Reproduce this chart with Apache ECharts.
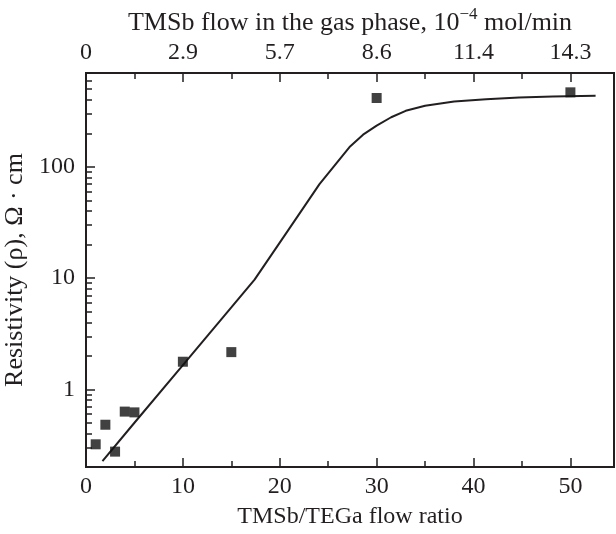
<!DOCTYPE html>
<html>
<head>
<meta charset="utf-8">
<script src="https://cdn.jsdelivr.net/npm/echarts@6/dist/echarts.min.js"></script>
<style>
  html, body { margin: 0; padding: 0; background: #fff; }
  #chart { width: 616px; height: 534px; }
</style>
</head>
<body>
<div id="chart"></div>
<script>
  // measured points
  var ratio = [1, 2, 3, 4, 5, 10, 15, 30, 50]
  var resistivity = [0.32, 0.48, 0.275, 0.63, 0.62, 1.77, 2.16, 417, 469]
  // fitted curve
  var fitRatio = [1.7, 5, 10, 15, 17.4, 21, 24.1, 27.2, 28.6, 30, 31.5, 33, 35, 38, 41.3, 44.7, 48.2, 52.6]
  var fitResistivity = [0.226, 0.50, 1.65, 5.46, 9.7, 28, 70, 151, 195, 235, 280, 320, 355, 387, 407, 422, 431, 436]
  // axis ticks
  var xTicks = [0, 10, 20, 30, 40, 50]
  var xMinorTicks = [5, 15, 25, 35, 45]
  var topTickLabels = ['0', '2.9', '5.7', '8.6', '11.4', '14.3']
  var yTicks = [1, 10, 100]
  var yMinorTicks = [0.3, 0.4, 0.5, 0.6, 0.7, 0.8, 0.9, 2, 3, 4, 5, 6, 7, 8, 9, 20, 30, 40, 50, 60, 70, 80, 90, 200, 300, 400, 500, 600, 700]

  var ink = '#231f20'
  var font = 'Liberation Serif'
  var xMax = 54.5
  var yMin = 0.2
  var yMax = 700

  function xAxisBase (pos, ticks, len) {
    return {
      type: 'value',
      position: pos,
      min: 0,
      max: xMax,
      interval: 10,
      gridIndex: 0,
      axisLine: { show: true, onZero: false, lineStyle: { color: ink, width: 2 } },
      axisTick: { show: true, inside: true, length: len, customValues: ticks, lineStyle: { color: ink, width: 1.5 } },
      axisLabel: { show: false },
      splitLine: { show: false }
    }
  }

  function yAxisBase (ticks, len) {
    return {
      type: 'log',
      logBase: 10,
      position: 'left',
      min: yMin,
      max: yMax,
      gridIndex: 0,
      axisLine: { show: true, onZero: false, lineStyle: { color: ink, width: 2 } },
      axisTick: { show: true, inside: true, length: len, customValues: ticks, lineStyle: { color: ink, width: 1.5 } },
      axisLabel: { show: false },
      splitLine: { show: false }
    }
  }

  var bottomAxis = xAxisBase('bottom', xTicks, 9)
  bottomAxis.axisLabel = {
    show: true,
    customValues: xTicks,
    margin: 8,
    color: ink,
    fontFamily: font,
    fontSize: 24,
    formatter: function (v) { return xTicks.indexOf(v) >= 0 ? String(v) : '' }
  }
  bottomAxis.name = 'TMSb/TEGa flow ratio'
  bottomAxis.nameLocation = 'middle'
  bottomAxis.nameGap = 38
  bottomAxis.nameTextStyle = { color: ink, fontFamily: font, fontSize: 24 }

  var topAxis = xAxisBase('top', xTicks, 9)
  topAxis.axisLabel = {
    show: true,
    customValues: xTicks,
    margin: 8,
    color: ink,
    fontFamily: font,
    fontSize: 24,
    formatter: function (v) {
      var i = xTicks.indexOf(v)
      return i >= 0 ? topTickLabels[i] : ''
    }
  }
  topAxis.name = '{t|TMSb flow in the gas phase, 10}{s|\u22124}{t| mol/min}'
  topAxis.nameLocation = 'middle'
  topAxis.nameGap = 33
  topAxis.nameTextStyle = {
    rich: {
      t: { color: ink, fontFamily: font, fontSize: 26, lineHeight: 30, verticalAlign: 'bottom' },
      s: { color: ink, fontFamily: font, fontSize: 17, lineHeight: 17, verticalAlign: 'top' }
    }
  }

  var leftAxis = yAxisBase(yTicks, 9)
  leftAxis.axisLabel = {
    show: true,
    customValues: yTicks,
    margin: 11,
    color: ink,
    fontFamily: font,
    fontSize: 24,
    formatter: function (v) { return yTicks.indexOf(v) >= 0 ? String(v) : '' }
  }
  leftAxis.name = 'Resistivity (\u03c1), \u03a9 \u00b7 cm'
  leftAxis.nameLocation = 'middle'
  leftAxis.nameRotate = 90
  leftAxis.nameGap = 50
  leftAxis.nameTextStyle = { color: ink, fontFamily: font, fontSize: 26 }

  var myChart = echarts.init(document.getElementById('chart'))
  var option = {
    animation: false,
    backgroundColor: '#fff',
    grid: {
      left: 86,
      right: 2,
      top: 73,
      bottom: 67,
      show: true,
      borderColor: ink,
      borderWidth: 2,
      containLabel: false,
      outerBoundsMode: 'none'
    },
    xAxis: [
      bottomAxis,
      topAxis,
      xAxisBase('bottom', xMinorTicks, 6),
      xAxisBase('top', xMinorTicks, 6)
    ],
    yAxis: [
      leftAxis,
      yAxisBase(yMinorTicks, 6)
    ],
    series: [
      {
        name: 'fit',
        type: 'line',
        xAxisIndex: 0,
        yAxisIndex: 0,
        showSymbol: false,
        smooth: false,
        lineStyle: { color: ink, width: 2 },
        data: fitRatio.map(function (x, i) { return [x, fitResistivity[i]] }),
        z: 2
      },
      {
        name: 'measured',
        type: 'scatter',
        xAxisIndex: 0,
        yAxisIndex: 0,
        symbol: 'rect',
        symbolSize: 10,
        itemStyle: { color: '#111' },
        data: ratio.map(function (x, i) { return [x, resistivity[i]] }),
        z: 3
      }
    ]
  }
  myChart.setOption(option)
</script>
</body>
</html>
